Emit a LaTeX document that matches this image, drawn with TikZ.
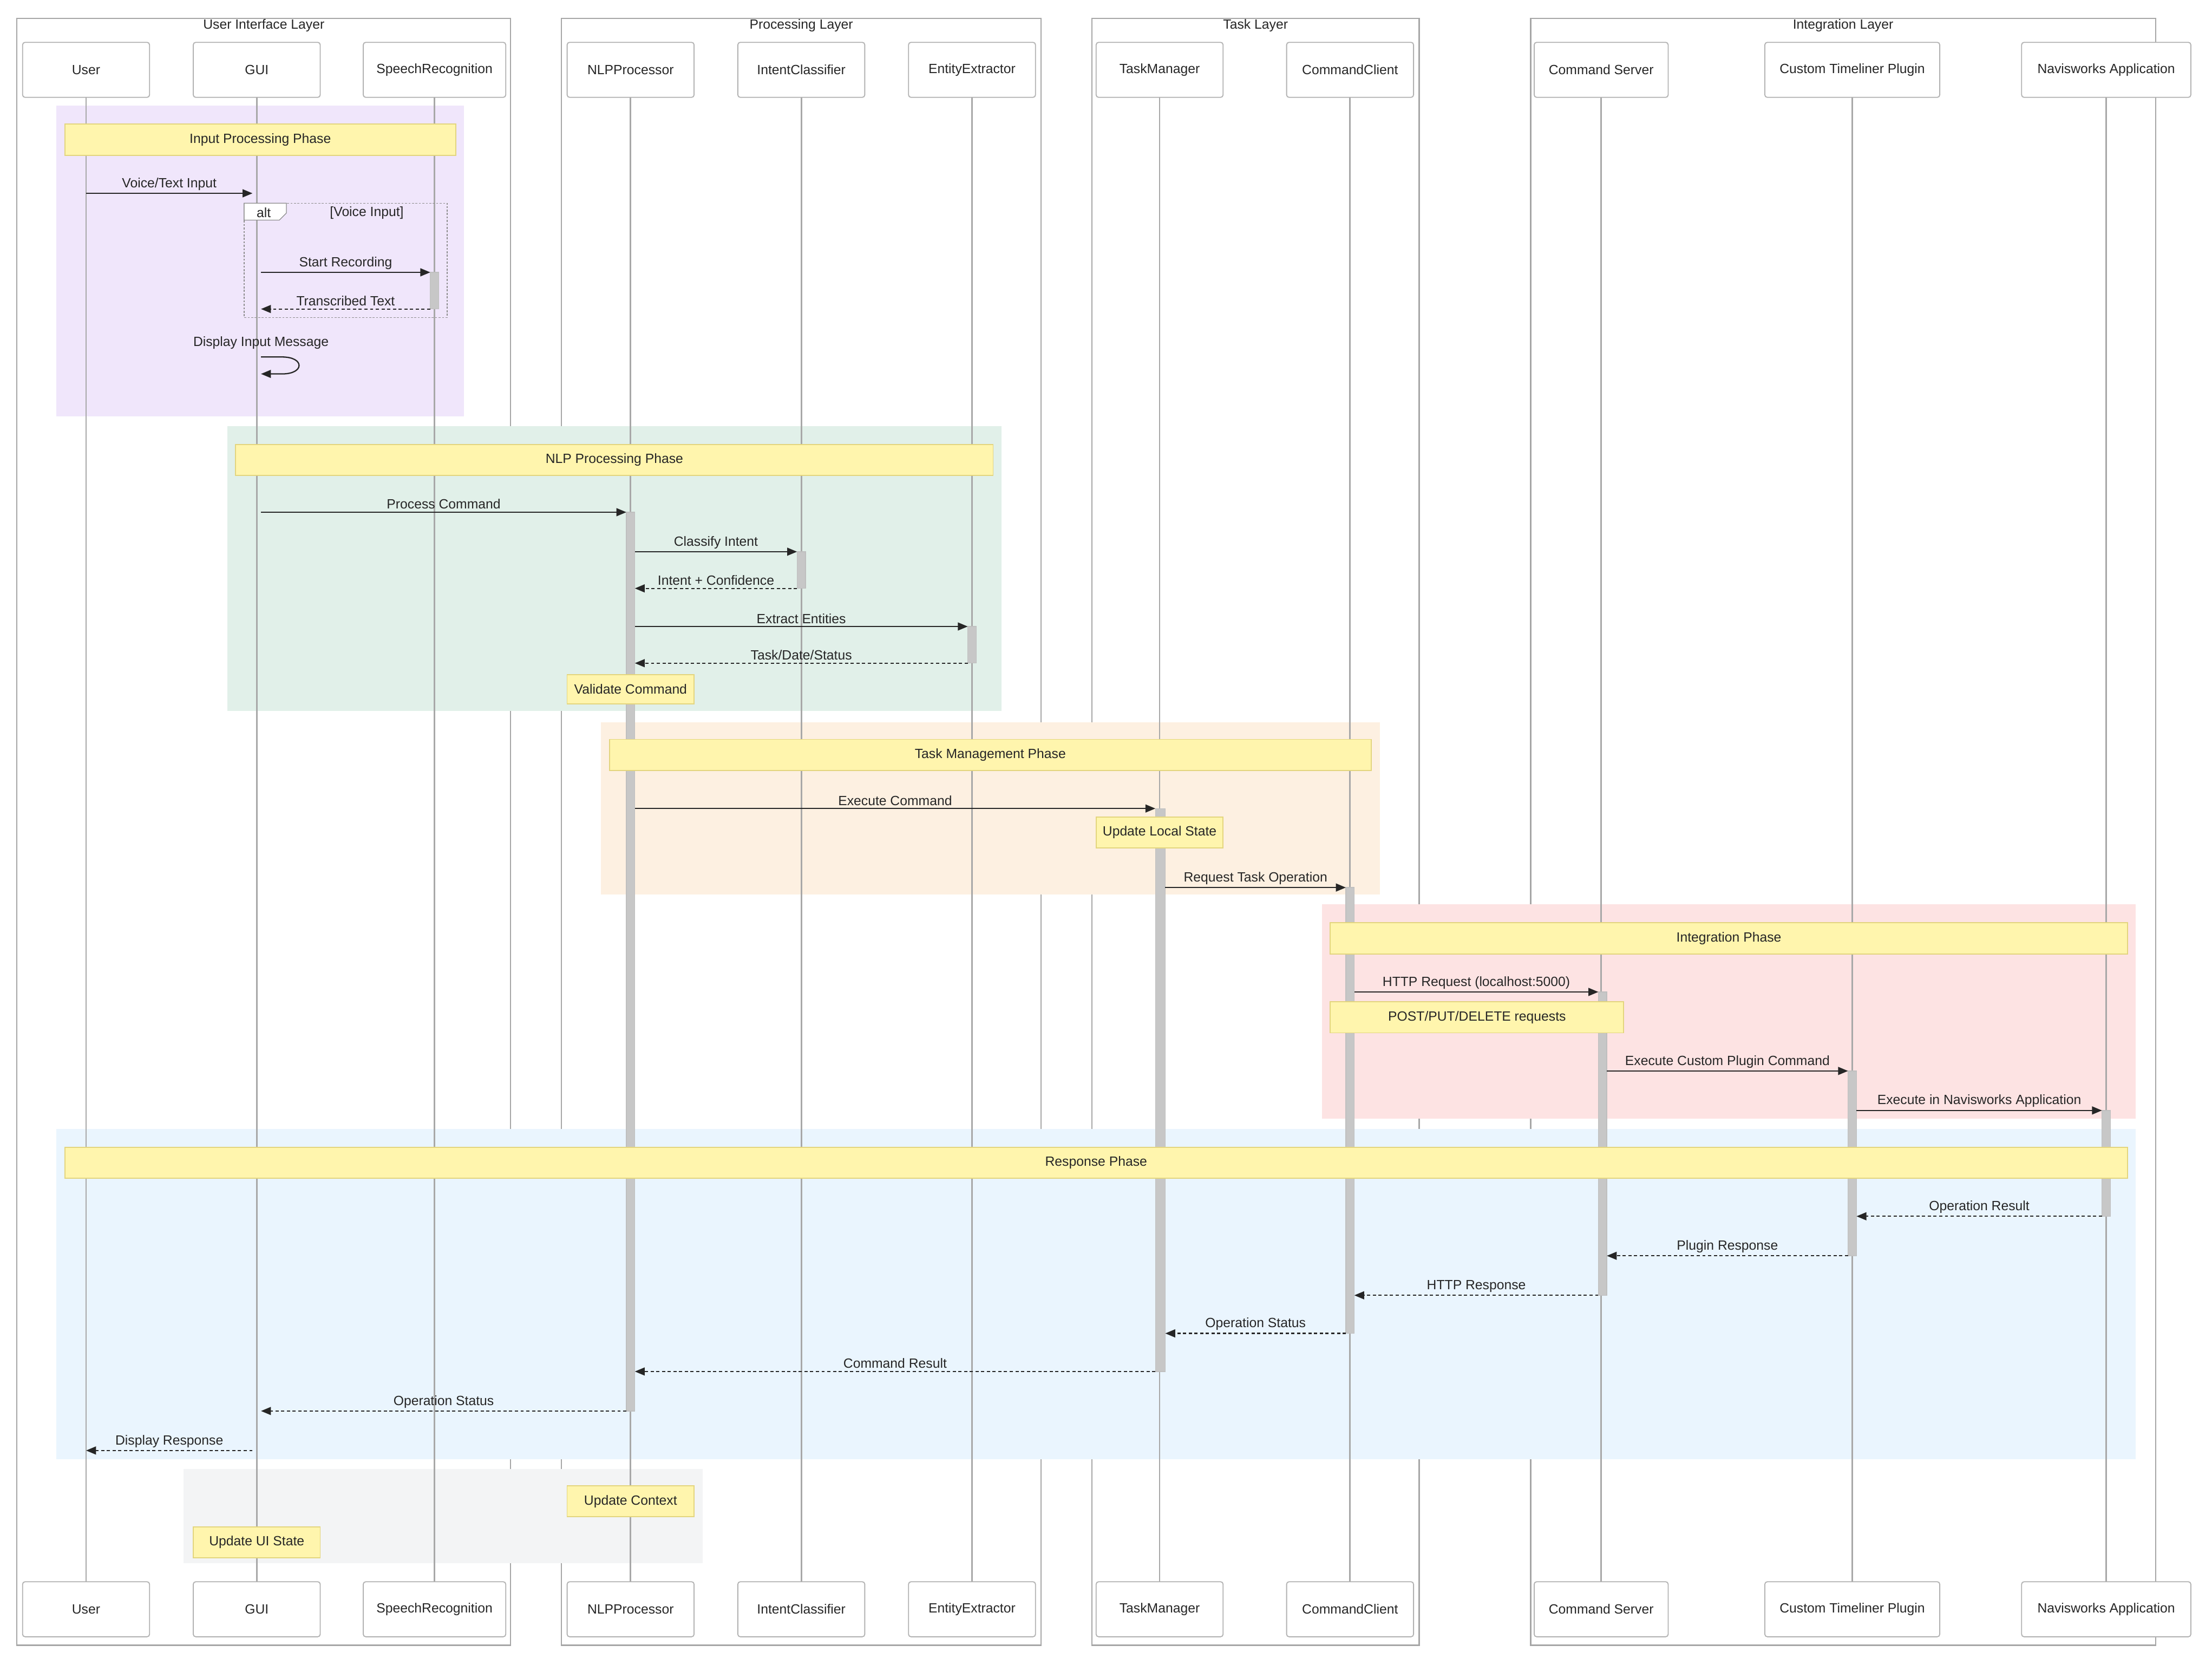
\documentclass[tikz,border=0pt]{standalone}
\usepackage{fontspec}
\setmainfont{Liberation Sans}
\usetikzlibrary{arrows.meta}
\definecolor{nfill}{HTML}{FFF5AD}
\definecolor{nline}{HTML}{E3D57E}
\definecolor{cpur}{HTML}{F0E6FB}
\definecolor{cgrn}{HTML}{E1F0E9}
\definecolor{corg}{HTML}{FDF0E1}
\definecolor{cred}{HTML}{FDE3E3}
\definecolor{cblu}{HTML}{EAF5FE}
\definecolor{cgry}{HTML}{F3F4F5}
\definecolor{lgry}{HTML}{A8A8A8}
\tikzset{
  txt/.style={font=\fontsize{5.4}{6.5}\selectfont, text=black!85},
  part/.style={draw=black!30, fill=white, rounded corners=1pt, minimum height=0.78cm, minimum width=1.8cm, txt, inner sep=1pt},
  note/.style={draw=nline, fill=nfill, txt, inner sep=0pt},
  frame/.style={draw=black!35, line width=0.5pt},
  life/.style={draw=lgry, line width=0.6pt},
  act/.style={draw=black!25, fill=black!22, line width=0.3pt},
  msg/.style={draw=black!85, line width=0.5pt, -{Triangle[length=4pt,width=3.2pt]}},
  ret/.style={msg, dash pattern=on 1.3pt off 1pt},
  lab/.style={txt, above=0pt, inner sep=1pt}
}
\newcommand{\msgline}[6]{% name, x1, x2, y, label, style
  \coordinate (#1a) at (#2,#4); \coordinate (#1b) at (#3,#4);
  \draw[#6] (#1a) -- node[lab] {#5} (#1b);}
\newcommand{\nt}[6]{% name x1 y1 x2 y2 text
  \node[note, minimum width={(#4-#2)*0.02cm}, minimum height={(#5-#3)*0.02cm}] (#1) at ({(#2+#4)/2},{(#3+#5)/2}) {#6};}
\begin{document}
\begin{tikzpicture}[x=0.02cm,y=-0.02cm]
\useasboundingbox[fill=white] (0,0) rectangle (1568,1180);
% frames
\foreach \a/\b/\t in {12/362/User Interface Layer,398/738/Processing Layer,774/1006/Task Layer,1085/1528/Integration Layer}{
  \draw[frame] (\a,13) rectangle (\b,1166);
  \node[txt] at ({(\a+\b)/2},18) {\t};}
% phase backgrounds
\fill[cpur] (40,75) rectangle (329,295);
\fill[cgrn] (161,302) rectangle (710,504);
\fill[corg] (426,512) rectangle (978,634);
\fill[cred] (937,641) rectangle (1514,793);
\fill[cblu] (40,800) rectangle (1514,1034);
\fill[cgry] (130,1041) rectangle (498,1108);
% lifelines
\foreach \n/\x in {U/61,G/182,S/308,N/447,I/568,E/689,T/822,C/957,V/1135,P/1313,A/1493}{
  \coordinate (\n t) at (\x,69); \coordinate (\n b) at (\x,1121);
  \draw[life] (\n t) -- (\n b);}
% activations
\draw[act] (305,193) rectangle (311,219);
\draw[act] (444,363) rectangle (450,1000);
\draw[act] (565,391) rectangle (571,417);
\draw[act] (686,444) rectangle (692,470);
\draw[act] (819,573) rectangle (826,972);
\draw[act] (954,629) rectangle (960,945);
\draw[act] (1133,703) rectangle (1139,918);
\draw[act] (1310,759) rectangle (1316,890);
\draw[act] (1490,787) rectangle (1496,862);
% notes
\nt{n1}{46}{88}{323}{110}{Input Processing Phase}
\nt{n2}{167}{315}{704}{337}{NLP Processing Phase}
\nt{n3}{432}{524}{972}{546}{Task Management Phase}
\nt{n4}{943}{654}{1508}{676}{Integration Phase}
\nt{n5}{46}{813}{1508}{835}{Response Phase}
\nt{n6}{402}{478}{492}{499}{Validate Command}
\nt{n7}{777}{579}{867}{601}{Update Local State}
\nt{n8}{943}{710}{1151}{732}{POST/PUT/DELETE requests}
\nt{n9}{402}{1053}{492}{1075}{Update Context}
\nt{n10}{137}{1082}{227}{1104}{Update UI State}
% alt box
\draw[black!45, line width=0.3pt, dash pattern=on 0.8pt off 0.6pt] (173,144) rectangle (317,225);
\draw[black!45, line width=0.3pt, fill=white] (173,144) -- (203,144) -- (203,151) -- (198,156) -- (173,156) -- cycle;
\node[txt] at (187,150.5) {alt};
\node[txt] at (260,151) {[Voice Input]};
% messages
\msgline{m1}{61}{179}{137}{Voice/Text Input}{msg}
\msgline{m2}{185}{305}{193}{Start Recording}{msg}
\msgline{m3}{305}{185}{219}{Transcribed Text}{ret}
\node[txt] at (185,243) {Display Input Message};
\coordinate (m4a) at (185,253); \coordinate (m4b) at (185,265);
\draw[msg] (m4a) -- (200,253) .. controls (216,253) and (216,265) .. (200,265) -- (m4b);
\msgline{m5}{185}{444}{363}{Process Command}{msg}
\msgline{m6}{450}{565}{391}{Classify Intent}{msg}
\msgline{m7}{565}{450}{417}{Intent + Confidence}{ret}
\msgline{m8}{450}{686}{444}{Extract Entities}{msg}
\msgline{m9}{686}{450}{470}{Task/Date/Status}{ret}
\msgline{m10}{450}{819}{573}{Execute Command}{msg}
\msgline{m11}{826}{954}{629}{Request Task Operation}{msg}
\msgline{m12}{960}{1133}{703}{HTTP Request (localhost:5000)}{msg}
\msgline{m13}{1139}{1310}{759}{Execute Custom Plugin Command}{msg}
\msgline{m14}{1316}{1490}{787}{Execute in Navisworks Application}{msg}
\msgline{m15}{1490}{1316}{862}{Operation Result}{ret}
\msgline{m16}{1310}{1139}{890}{Plugin Response}{ret}
\msgline{m17}{1133}{960}{918}{HTTP Response}{ret}
\msgline{m18}{954}{826}{945}{Operation Status}{ret}
\msgline{m19}{819}{450}{972}{Command Result}{ret}
\msgline{m20}{444}{185}{1000}{Operation Status}{ret}
\msgline{m21}{179}{61}{1028}{Display Response}{ret}
% participants
\foreach \y/\s in {49.5/top,1140.5/bot}{
  \node[part] (U\s) at (61,\y) {User};
  \node[part] (G\s) at (182,\y) {GUI};
  \node[part, minimum width=2.02cm] (S\s) at (308,\y) {SpeechRecognition};
  \node[part] (N\s) at (447,\y) {NLPProcessor};
  \node[part] (I\s) at (568,\y) {IntentClassifier};
  \node[part] (E\s) at (689,\y) {EntityExtractor};
  \node[part] (T\s) at (822,\y) {TaskManager};
  \node[part] (C\s) at (957,\y) {CommandClient};
  \node[part, minimum width=1.9cm] (V\s) at (1135,\y) {Command Server};
  \node[part, minimum width=2.48cm] (P\s) at (1313,\y) {Custom Timeliner Plugin};
  \node[part, minimum width=2.4cm] (A\s) at (1493,\y) {Navisworks Application};
}
\end{tikzpicture}
\end{document}
